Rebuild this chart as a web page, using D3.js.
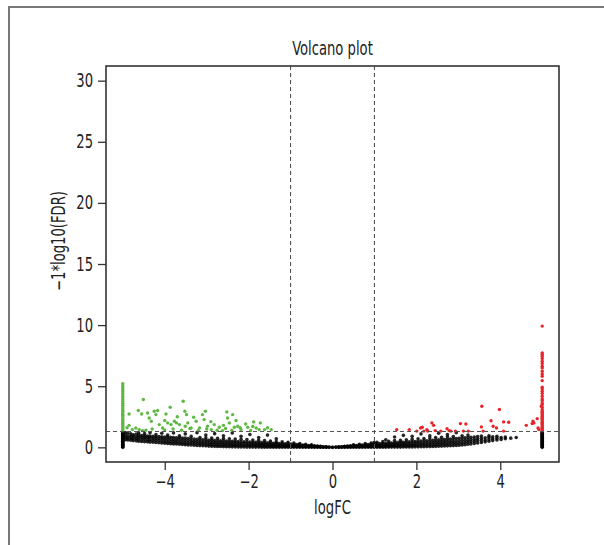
<!DOCTYPE html>
<html>
<head>
<meta charset="utf-8">
<script src="https://cdn.jsdelivr.net/npm/d3@7"></script>
<style>
  body { margin: 0; background: #fff; }
  text { font-family: "Liberation Sans Narrow", "DejaVu Sans Condensed", sans-serif; fill: #222; }
</style>
</head>
<body>
<div id="chart"></div>
<script>
var xTicks = [-4, -2, 0, 2, 4];
var yTicks = [0, 5, 10, 15, 20, 25, 30];
var fcCut = 1;
var fdrCut = 0.05;

// not significant genes, one column per logFC: [logFC, -log10(FDR) ...]
var blackCols = [
  [-5, 0, .05, .1, .15, .2, .25, .3, .35, .4, .45, .5, .55, .6, .65, .7, .75, .8, .85, .9, .95, 1.0, 1.05, 1.1, 1.15, 1.2, 1.25],
  [-4.94, .62, .8, .98, 1.2], [-4.88, .6, .75, .92, 1.15], [-4.81, .58, .74, .9, 1.1], [-4.75, .55, .72, .88, 1.02],
  [-4.68, .53, .7, .86, 1.08], [-4.62, .5, .68, .85, 1.0, 1.18], [-4.55, .48, .66, .83, .97], [-4.48, .46, .64, .8, .95, 1.12],
  [-4.41, .45, .62, .8, .93], [-4.35, .43, .6, .78, .92, 1.2], [-4.28, .41, .58, .75, .9], [-4.21, .39, .56, .73, .88, 1.05],
  [-4.14, .37, .55, .72, .88], [-4.07, .35, .52, .7, .86, 1.15], [-4.0, .33, .5, .68, .85], [-3.93, .31, .48, .66, .84, 1.0],
  [-3.86, .3, .46, .64, .82], [-3.79, .28, .45, .62, .8, 1.18], [-3.72, .27, .43, .6, .78], [-3.65, .25, .42, .6, .78, .95],
  [-3.58, .24, .4, .58, .76], [-3.51, .22, .38, .56, .75, 1.1], [-3.44, .2, .36, .54, .72], [-3.37, .19, .35, .52, .7, .9],
  [-3.3, .17, .33, .5, .68], [-3.23, .15, .31, .48, .66, 1.2], [-3.16, .14, .3, .46, .64, .8], [-3.09, .13, .28, .44, .62],
  [-3.02, .12, .27, .43, .6, .78, 1.0], [-2.95, .1, .25, .42, .58], [-2.88, .09, .24, .4, .57, .75], [-2.81, .08, .23, .39, .56, 1.12],
  [-2.74, .07, .22, .38, .55, .74], [-2.67, .07, .21, .37, .54], [-2.6, .06, .2, .36, .53, .72, .95], [-2.53, .05, .2, .35, .52],
  [-2.46, .05, .19, .34, .5, .7], [-2.39, .04, .18, .33, .5, 1.18], [-2.32, .04, .17, .32, .48, .68], [-2.25, .03, .17, .31, .47],
  [-2.18, .03, .16, .3, .46, .66, .9], [-2.11, .03, .15, .3, .45], [-2.04, .02, .15, .29, .44, .64], [-1.97, .02, .14, .28, .43, 1.05],
  [-1.9, .02, .14, .27, .42, .6], [-1.83, .02, .13, .27, .41], [-1.76, .02, .13, .26, .4, .58, .8], [-1.69, .01, .12, .25, .39],
  [-1.62, .01, .12, .24, .38, .55], [-1.55, .01, .11, .23, .37, 1.0], [-1.48, .01, .11, .22, .35, .52], [-1.41, .01, .1, .21, .34],
  [-1.34, .01, .1, .2, .33, .48, .7], [-1.27, .01, .09, .19, .31], [-1.2, .01, .09, .18, .3, .45], [-1.13, .01, .08, .17, .29],
  [-1.06, .01, .08, .16, .27, .42], [-0.99, .01, .07, .15, .26], [-0.92, .01, .07, .15, .24, .36], [-0.85, .01, .07, .14, .22],
  [-0.78, .01, .06, .13, .2, .3], [-0.71, .01, .06, .12, .18], [-0.64, .01, .05, .11, .16, .24], [-0.57, .01, .05, .1, .15],
  [-0.5, .01, .05, .09, .14, .2], [-0.43, .01, .04, .08, .12], [-0.36, .01, .04, .07, .1], [-0.29, .01, .03, .06, .09],
  [-0.22, .01, .03, .05], [-0.15, .01, .02, .04], [-0.08, .01, .02], [0, 0, .01],
  [0.08, .01, .02], [0.15, .01, .02, .04], [0.22, .01, .03, .05], [0.29, .01, .03, .06, .09],
  [0.36, .01, .04, .07, .1], [0.43, .01, .04, .08, .12], [0.5, .01, .05, .09, .14, .2], [0.57, .01, .05, .1, .15],
  [0.64, .01, .05, .11, .16, .24], [0.71, .01, .06, .12, .18], [0.78, .01, .06, .13, .2, .3], [0.85, .01, .07, .14, .22],
  [0.92, .01, .07, .15, .24, .36], [0.99, .01, .07, .15, .26, .4], [1.06, .01, .08, .17, .28, .42], [1.13, .01, .08, .18, .3],
  [1.2, .01, .09, .19, .31, .48], [1.27, .01, .1, .2, .33, .62], [1.34, .02, .1, .21, .34, .5], [1.41, .02, .11, .22, .36],
  [1.48, .02, .12, .24, .38, .55, .85], [1.55, .02, .12, .25, .4], [1.62, .02, .13, .26, .41, .58], [1.69, .03, .14, .27, .42, .98],
  [1.76, .03, .14, .28, .44, .62], [1.83, .03, .15, .29, .45], [1.9, .03, .16, .3, .47, .66, .9], [1.97, .04, .17, .32, .48],
  [2.04, .04, .18, .33, .5, .7], [2.11, .05, .19, .34, .51, 1.1], [2.18, .05, .2, .35, .53, .72], [2.25, .06, .21, .37, .54],
  [2.32, .06, .22, .38, .56, .76, .95], [2.39, .07, .23, .4, .58], [2.46, .08, .24, .41, .6, .8], [2.53, .09, .25, .42, .61, 1.15],
  [2.6, .1, .27, .44, .63, .82], [2.67, .11, .28, .45, .64], [2.74, .12, .29, .47, .66, .86, 1.05], [2.81, .13, .31, .48, .68],
  [2.88, .14, .32, .5, .7, .88], [2.95, .16, .34, .52, .72, 1.2], [3.02, .18, .36, .54, .74], [3.09, .2, .38, .56, .76, .95],
  [3.16, .22, .4, .58, .78], [3.23, .25, .43, .6, .8, 1.0], [3.3, .28, .46, .63, .82], [3.38, .32, .5, .66, .85],
  [3.46, .36, .53, .7, .88], [3.55, .4, .57, .74, .92], [3.64, .45, .6, .78], [3.73, .5, .65, .82, .95],
  [3.82, .55, .7, .86], [3.92, .6, .75, .9], [4.02, .65, .8], [4.12, .7, .85], [4.25, .75], [4.38, .8],
  [5, 0, .05, .1, .15, .2, .25, .3, .35, .4, .45, .5, .55, .6, .65, .7, .75, .8, .85, .9, .95, 1.0, 1.05, 1.1, 1.15, 1.2, 1.25]
];

// down-regulated genes
var greenStackY = [1.35, 1.48, 1.6, 1.72, 1.85, 1.98, 2.1, 2.22, 2.35, 2.5, 2.62, 2.75, 2.9, 3.02,
  3.15, 3.3, 3.45, 3.6, 3.75, 3.9, 4.05, 4.2, 4.38, 4.55, 4.7, 4.85, 5.02, 5.2];
var greenPts = [
  [-4.85, 2.73], [-4.51, 3.91], [-4.63, 3.01], [-4.55, 2.73], [-4.41, 2.81], [-4.37, 2.4], [-4.32, 2.13], [-4.25, 2.95],
  [-4.17, 3.01], [-4.21, 2.68], [-4.13, 1.86], [-4.05, 1.58], [-3.97, 2.73], [-3.87, 3.28], [-3.93, 2.0], [-3.85, 1.86],
  [-3.77, 2.13], [-3.72, 2.0], [-3.65, 1.86], [-3.56, 3.77], [-3.52, 2.95], [-3.48, 2.68], [-3.51, 1.72], [-3.45, 2.0],
  [-3.37, 1.58], [-3.31, 2.46], [-3.25, 2.13], [-3.17, 1.58], [-3.10, 2.68], [-3.03, 2.95], [-3.06, 2.27], [-2.98, 1.72],
  [-2.89, 1.45], [-2.82, 1.86], [-2.70, 1.64], [-2.62, 1.37], [-2.52, 2.90], [-2.50, 2.40], [-2.46, 2.0], [-2.38, 2.68],
  [-2.34, 1.64], [-2.26, 1.72], [-2.18, 1.45], [-2.07, 1.91], [-2.02, 1.64], [-1.88, 2.08], [-1.82, 1.58], [-1.72, 2.0],
  [-1.62, 1.45], [-1.46, 1.45], [-4.77, 1.45], [-4.69, 1.58], [-4.61, 1.45], [-4.53, 1.37], [-4.45, 1.4], [-4.3, 1.5],
  [-4.0, 1.42], [-3.8, 1.5], [-3.6, 1.4], [-3.4, 1.55], [-3.2, 1.38], [-3.0, 1.5], [-2.75, 1.4], [-2.55, 1.55],
  [-2.4, 1.4], [-2.2, 1.6], [-1.95, 1.38], [-1.75, 1.45], [-1.55, 1.6], [-4.9, 1.6], [-4.85, 1.8], [-4.0, 2.2],
  [-3.7, 2.5], [-2.9, 2.1], [-2.6, 1.8], [-2.3, 2.2], [-1.9, 1.7]
];

// up-regulated genes
var redStackY = [9.92, 7.73, 7.6, 7.46, 7.27, 7.05, 6.86, 6.64, 6.5, 6.23, 6.01, 5.82, 5.46, 4.92, 4.78, 4.59, 4.4,
  4.18, 3.96, 3.83, 3.63, 3.5, 3.28, 3.09, 2.95, 2.85, 2.75, 2.65, 2.55, 2.45, 2.35, 2.25, 2.15, 2.05, 1.95, 1.85,
  1.75, 1.65, 1.55, 1.45, 1.35];
var redPts = [
  [1.53, 1.45], [1.83, 1.45], [2.01, 1.33], [2.10, 1.58], [2.14, 1.64], [2.18, 1.33], [2.25, 1.45], [2.27, 1.33],
  [2.37, 2.0], [2.41, 1.8], [2.45, 1.37], [2.58, 1.33], [2.73, 1.53], [2.78, 1.37], [2.82, 1.33], [2.93, 1.33],
  [3.05, 1.94], [3.18, 1.91], [3.12, 1.33], [3.24, 1.33], [3.55, 1.67], [3.56, 3.36], [3.59, 1.33], [3.78, 2.18],
  [3.83, 1.72], [3.91, 1.58], [3.98, 3.09], [4.08, 2.08], [4.08, 1.33], [4.20, 2.05], [4.62, 1.8], [4.76, 1.94],
  [4.80, 2.0], [4.88, 2.35], [4.78, 2.13], [4.90, 1.58], [4.98, 3.36], [4.92, 1.45]
];

var width = 604;
var height = 545;
var pLeft = 106, pRight = 559, pTop = 66, pBottom = 462;
var squeezeX = 0.77;   // the original uses a condensed face

var svg = d3.select('#chart')
    .append('svg')
        .attr('width', width)
        .attr('height', height);

// figure frame (cropped panel border)
svg.append('path')
    .attr('d', 'M9,' + height + 'V7H' + width)
    .attr('fill', 'none')
    .attr('stroke', '#777')
    .attr('stroke-width', 2);

var x = d3.scaleLinear().domain([-5.4, 5.4]).range([pLeft, pRight]);
var y = d3.scaleLinear().domain([-1.2, 31.2]).range([pBottom, pTop]);

var blackPts = [];
blackCols.forEach(function(c) {
    c.slice(1).forEach(function(v) { blackPts.push([c[0], v]); });
});
var greens = greenStackY.map(function(v) { return [-5, v]; }).concat(greenPts);
var reds = redStackY.map(function(v) { return [5, v]; }).concat(redPts);

var plot = svg.append('g');

plot.selectAll('.ns')
    .data(blackPts)
    .enter()
    .append('circle')
        .attr('class', 'ns')
        .attr('cx', d => x(d[0]))
        .attr('cy', d => y(d[1]))
        .attr('r', 1.8)
        .attr('fill', '#000')
        .attr('opacity', 0.85);

plot.selectAll('.down')
    .data(greens)
    .enter()
    .append('circle')
        .attr('class', 'down')
        .attr('cx', d => x(d[0]))
        .attr('cy', d => y(d[1]))
        .attr('r', 1.7)
        .attr('fill', '#5fb844');

plot.selectAll('.up')
    .data(reds)
    .enter()
    .append('circle')
        .attr('class', 'up')
        .attr('cx', d => x(d[0]))
        .attr('cy', d => y(d[1]))
        .attr('r', 1.7)
        .attr('fill', '#e8262a');

// cut-off lines
[-fcCut, fcCut].forEach(function(v) {
    svg.append('line')
        .attr('x1', x(v)).attr('x2', x(v))
        .attr('y1', pTop).attr('y2', pBottom)
        .attr('stroke', '#555')
        .attr('stroke-width', 1.1)
        .attr('stroke-dasharray', '4,3');
});
svg.append('line')
    .attr('x1', pLeft).attr('x2', pRight)
    .attr('y1', y(-Math.log10(fdrCut))).attr('y2', y(-Math.log10(fdrCut)))
    .attr('stroke', '#555')
    .attr('stroke-width', 1.1)
    .attr('stroke-dasharray', '4,3');

function squeeze(sel) {
    sel.each(function() {
        var t = d3.select(this);
        var tx = +t.attr('x') || 0, ty = +t.attr('y') || 0;
        t.attr('x', 0).attr('y', 0)
         .attr('transform', 'translate(' + tx + ',' + ty + ') scale(' + squeezeX + ',1)');
    });
}

// axes
var xAxis = svg.append('g')
    .attr('transform', 'translate(0,' + pBottom + ')')
    .call(d3.axisBottom(x).tickValues(xTicks).tickSize(8).tickPadding(5));
var yAxis = svg.append('g')
    .attr('transform', 'translate(' + pLeft + ',0)')
    .call(d3.axisLeft(y).tickValues(yTicks).tickSize(8).tickPadding(5));

[xAxis, yAxis].forEach(function(a) {
    a.select('.domain').remove();
    a.selectAll('line').attr('stroke', '#333').attr('stroke-width', 1.3);
    a.selectAll('text').style('font-size', '19px').attr('fill', '#222').call(squeeze);
});

svg.append('rect')
    .attr('x', pLeft).attr('y', pTop)
    .attr('width', pRight - pLeft).attr('height', pBottom - pTop)
    .attr('fill', 'none')
    .attr('stroke', '#333')
    .attr('stroke-width', 1.6);

svg.append('text')
    .attr('x', (pLeft + pRight) / 2)
    .attr('y', 55)
    .attr('text-anchor', 'middle')
    .style('font-size', '19px')
    .text('Volcano plot')
    .call(squeeze);

svg.append('text')
    .attr('x', (pLeft + pRight) / 2)
    .attr('y', 514)
    .attr('text-anchor', 'middle')
    .style('font-size', '19px')
    .text('logFC')
    .call(squeeze);

svg.append('text')
    .attr('transform', 'translate(65,241) rotate(-90) scale(' + squeezeX + ',1)')
    .attr('text-anchor', 'middle')
    .style('font-size', '19px')
    .text('\u22121*log10(FDR)');
</script>
</body>
</html>
